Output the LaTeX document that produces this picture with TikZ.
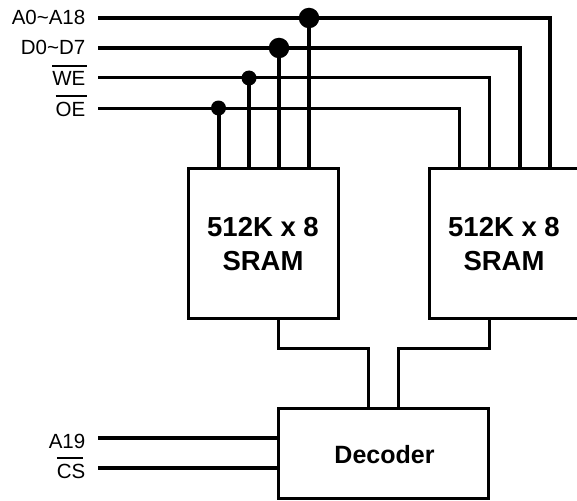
\documentclass[tikz,border=0pt]{standalone}
\usepackage{fontspec}
\setmainfont{Liberation Sans}
\tikzset{
  box/.style={draw=black,line width=3pt,fill=white,minimum width=#1,inner sep=0pt},
  boxtext/.style={inner sep=0pt,align=center,font=\fontsize{27.5}{34}\selectfont\bfseries},
  thickwire/.style={line width=4pt,line join=miter},
  thinwire/.style={line width=3pt,line join=miter},
  lab/.style={anchor=base east,inner sep=0pt,font=\fontsize{20.5}{20.5}\selectfont},
  ctl/.style={line width=3pt,line join=miter},
  dotbig/.style={circle,fill=black,minimum size=20.5pt,inner sep=0pt},
  dotsmall/.style={circle,fill=black,minimum size=15pt,inner sep=0pt},
}
\newcommand{\barred}[2]{\leavevmode\vbox{\hrule height 2pt\kern 4.4pt\hbox{#2\kern#1pt}}}
\begin{document}
\begin{tikzpicture}[x=1pt,y=-1pt]
\useasboundingbox (0,0) rectangle (577,500);
\clip (0,0) rectangle (577,500);
% boxes
\node[box=150pt,minimum height=150pt] (s1) at (263,243) {};
\node[box=150pt,minimum height=150pt] (s2) at (504,243) {};
\node[box=210pt,minimum height=90pt] (dec) at (383.5,453.5) {};
\node[boxtext] (t1) at (263,244.5) {512K x 8\\SRAM};
\node[boxtext] (t2) at (504,244.5) {512K x 8\\SRAM};
\node[boxtext,font=\fontsize{25}{28}\selectfont\bfseries] (t3) at (384.5,455) {Decoder};
% labels
\node[lab] (la) at (85.5,25) {A0\textasciitilde A18};
\node[lab] (ld) at (85.5,55) {D0\textasciitilde D7};
\node[lab] (lw) at (87.5,86) {\barred{2}{WE}};
\node[lab] (lo) at (87.5,116) {\barred{2}{OE}};
\node[lab] (l19) at (85.5,448) {A19};
\node[lab] (lcs) at (83.5,478) {\barred{-2}{CS}};
% wire starts
\coordinate (a0) at (98,18);
\coordinate (d0) at (98,48);
\coordinate (w0) at (98,78);
\coordinate (o0) at (98,108);
\coordinate (a19) at (98,438);
\coordinate (cs) at (98,468);
% ports on the second SRAM
\coordinate (pa) at (550,168);
\coordinate (pd) at (520,168);
\coordinate (pw) at (489,168);
\coordinate (po) at (459,168);
% decoder links
\coordinate (b1) at (278.5,318);
\coordinate (b2) at (489,318);
\coordinate (m1) at (368,348);
\coordinate (m2) at (398,348);
\coordinate (e1) at (368,408.5);
\coordinate (e2) at (398,408.5);
% junctions
\node[dotbig] (ja) at (309,18) {};
\node[dotbig] (jd) at (279,48) {};
\node[dotsmall] (jw) at (249,78) {};
\node[dotsmall] (jo) at (218.5,108) {};
% buses
\draw[thickwire] (a0) -- (ja.center) -| (pa);
\draw[thickwire] (d0) -- (jd.center) -| (pd);
\draw[thinwire] (w0) -- (jw.center) -| (pw);
\draw[thinwire] (o0) -- (jo.center) -| (po);
% drops
\draw[thickwire] (ja.center) -- (ja.center |- s1.north);
\draw[thickwire] (jd.center) -- (jd.center |- s1.north);
\draw[thickwire] (jw.center) -- (jw.center |- s1.north);
\draw[thickwire] (jo.center) -- (jo.center |- s1.north);
% decoder
\draw[ctl] (b1) |- (m1) -- (e1);
\draw[ctl] (b2) |- (m2) -- (e2);
\draw[thickwire] (a19) -- (a19 -| dec.west);
\draw[thickwire] (cs) -- (cs -| dec.west);
\end{tikzpicture}
\end{document}
